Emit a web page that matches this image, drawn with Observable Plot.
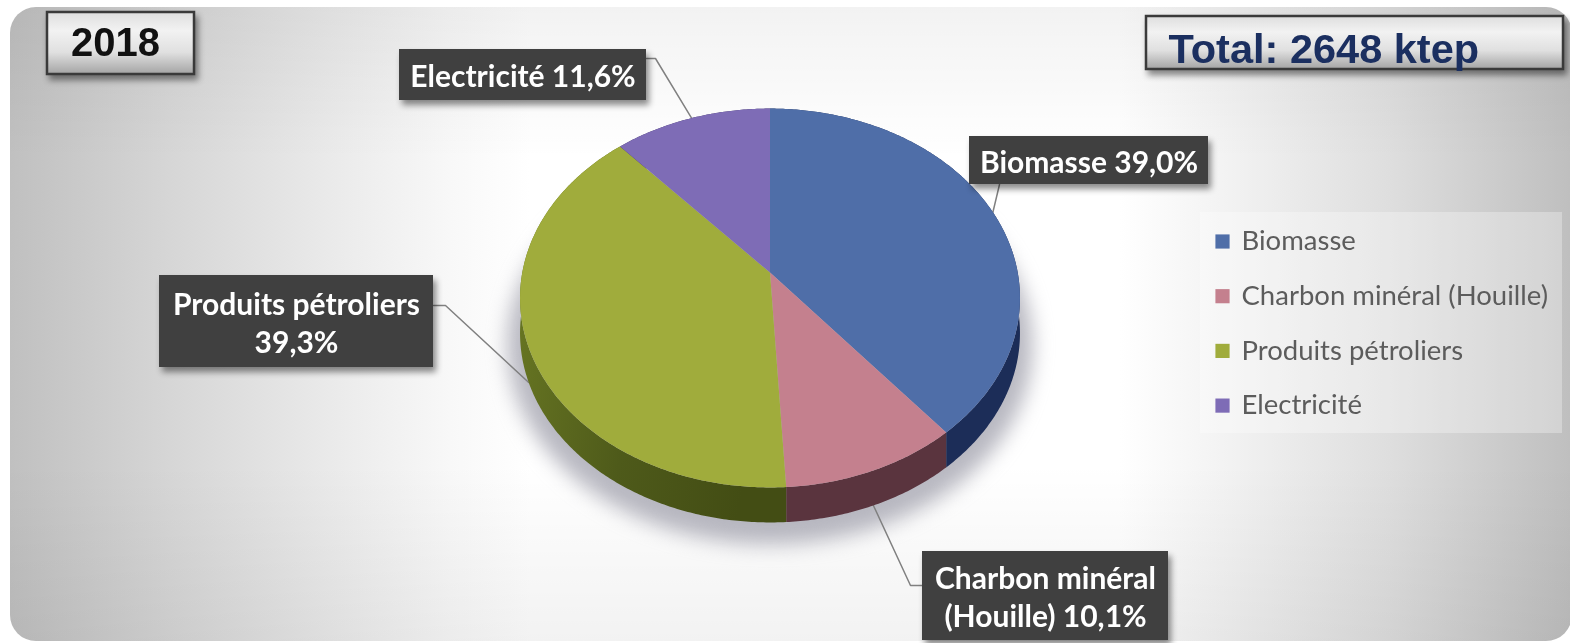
<!DOCTYPE html>
<html lang="fr">
<head>
<meta charset="utf-8">
<title>2018 – Total: 2648 ktep</title>
<script src="https://cdn.jsdelivr.net/npm/d3@7"></script>
<script src="https://cdn.jsdelivr.net/npm/@observablehq/plot@0.6"></script>
<style>
  html, body { margin: 0; padding: 0; background: #fff; overflow: hidden; }
  #stage { position: relative; width: 1570px; height: 643px; overflow: hidden; }
  #panel {
    position: absolute; left: 10px; top: 7px; width: 1562px; height: 634px; border-radius: 26px;
    background:
      linear-gradient(180deg, rgba(0,0,0,0.05) 0, rgba(0,0,0,0) 24%, rgba(0,0,0,0) 72%, rgba(0,0,0,0.05) 100%),
      linear-gradient(90deg, #c0c0c0 0, #d6d6d6 160px, #eaeaea 320px, #f8f8f8 440px, #ffffff 520px, #ffffff 1110px, #f2f2f2 1220px, #dedede 1380px, #bfbfbf 1560px);
  }
  #chart { position: absolute; left: 0; top: 0; }
  #chart svg { display: block; background: transparent; filter: blur(0.6px); }
</style>
</head>
<body>
<div id="stage"><div id="panel"></div><div id="chart"></div></div>
<script>
// ---- chart values ----
const yearLabel = "2018";
const totalLabel = "Total: 2648 ktep";
const categories = ["Biomasse", "Charbon minéral (Houille)", "Produits pétroliers", "Electricité"];
const shares = [39.0, 10.1, 39.3, 11.6];
const sliceLabels = ["Biomasse 39,0%", "Charbon minéral\n(Houille) 10,1%", "Produits pétroliers\n39,3%", "Electricité 11,6%"];

// ---- styles and layout ----
const topColors = ["#4f6ea8", "#c4808e", "#a0ac3c", "#7e6cb6"];
const sideColors = ["#1c2d58", "#5a343e", "url(#greenSide)", "#3a3060"];
const ink = "#404040";
const pie = {cx: 769.5, cy: 272, a: 247.7, b: 186, k: 0.1346, depth: 35};
const boxes = [
  {x1: 969, x2: 1208, y1: 136, y2: 184, elbow: null, tail: [999, 184]},
  {x1: 922, x2: 1168, y1: 551, y2: 640, elbow: [910, 585], tail: [922, 585]},
  {x1: 159, x2: 433, y1: 275, y2: 367, elbow: [445, 305], tail: [433, 305]},
  {x1: 399, x2: 646, y1: 49, y2: 100, elbow: [655, 58], tail: [646, 58]}
];
const legend = {x1: 1200, x2: 1562, y1: 212, y2: 433, swatchX: 1222, textX: 1241, top: 241, step: 54.7};

// ---- geometry derived from the values ----
const arcs = d3.pie().sort(null).value(d => d)(shares);
function project(theta, grow = 1, dy = 0) {
  const c = -Math.cos(theta), w = 1 - pie.k * c;
  return {x: pie.cx + grow * pie.a * Math.sin(theta) / w, y: pie.cy + grow * pie.b * c / w + dy};
}
const rimAngles = (a0, a1) => {
  const n = Math.max(2, Math.ceil((a1 - a0) / 0.01));
  return d3.range(n + 1).map(i => a0 + (a1 - a0) * i / n);
};
const topFace = arc => [
  {x: pie.cx, y: pie.cy, name: categories[arc.index]},
  ...rimAngles(arc.startAngle, arc.endAngle).map(t => ({...project(t), name: categories[arc.index]}))
];
const sideFace = arc => {
  const ts = rimAngles(arc.startAngle, arc.endAngle);
  return [...ts.map(t => project(t)), ...ts.slice().reverse().map(t => project(t, 1, pie.depth))];
};
const leader = (arc, box) => {
  const mid = (arc.startAngle + arc.endAngle) / 2;
  const end = project(mid, 1, Math.cos(mid) < 0 ? pie.depth : 0);
  const pts = [box.tail];
  if (box.elbow) pts.push(box.elbow);
  pts.push([end.x, end.y]);
  return pts.map(([x, y]) => ({x, y}));
};
const shadowRim = rimAngles(0, 2 * Math.PI).map(t => project(t, 1.05, 46));

const defs = () => {
  const d = d3.create("svg:defs");
  const grad = (id, stops, x2 = 0, y2 = 1) => {
    const g = d.append("linearGradient").attr("id", id).attr("x1", 0).attr("y1", 0).attr("x2", x2).attr("y2", y2);
    stops.forEach(([o, c]) => g.append("stop").attr("offset", o).attr("stop-color", c));
  };
  grad("titleBox", [[0, "#dedede"], [0.3, "#f2f2f2"], [0.65, "#e0e0e0"], [1, "#a4a4a4"]]);
  grad("greenSide", [[0, "#6c7b24"], [0.55, "#4e5a1a"], [1, "#434d14"]], 1, 0.25);
  return d.node();
};
const withFilter = css => (index, scales, values, dims, ctx, next) => {
  const g = next(index, scales, values, dims, ctx);
  g.style.filter = css;
  return g;
};
const dropShadow = withFilter("drop-shadow(3px 5px 3px rgba(0,0,0,0.45))");

const titleBox = (x1, x2, y1, y2) => Plot.rect([{x1, x2, y1, y2}], {
  x1: "x1", x2: "x2", y1: "y1", y2: "y2", fill: "url(#titleBox)", stroke: "#3a3a3a", strokeWidth: 2.5, render: dropShadow
});

const chart = Plot.plot({
  width: 1570, height: 643, margin: 0,
  style: {background: "transparent"},
  x: {domain: [0, 1570], range: [0, 1570], axis: null},
  y: {domain: [0, 643], range: [0, 643], axis: null},
  color: {type: "ordinal", domain: categories, range: topColors},
  marks: [
    defs,
    // title boxes
    titleBox(47, 194, 12, 74),
    Plot.text([yearLabel], {x: 115, y: 43, text: d => d, fontFamily: "Liberation Sans", fontWeight: 700, fontSize: 40, fill: "#111"}),
    titleBox(1146, 1563, 16, 69),
    Plot.text([totalLabel], {x: 1168, y: 49, text: d => d, textAnchor: "start", fontFamily: "Liberation Sans", fontWeight: 700, fontSize: 41.5, fill: "#1b2f60"}),
    // legend
    Plot.rect([legend], {x1: "x1", x2: "x2", y1: "y1", y2: "y2", fill: "#fff", fillOpacity: 0.3}),
    Plot.dot(categories, {x: legend.swatchX, y: (d, i) => legend.top + i * legend.step, symbol: "square", r: 8, fill: d => d}),
    Plot.text(categories, {x: legend.textX, y: (d, i) => legend.top + i * legend.step, text: d => d, textAnchor: "start",
      fontFamily: "Lato", fontSize: 27.5, fill: "#5c5c5c"}),
    // pie shadow and leader lines sit under the pie
    Plot.line(shadowRim, {x: "x", y: "y", fill: "#9a9aa6", fillOpacity: 0.7, stroke: "none", render: withFilter("blur(10px)")}),
    ...arcs.map((arc, i) => Plot.line(leader(arc, boxes[i]), {x: "x", y: "y", stroke: "#808080", strokeWidth: 1.5})),
    // pie side then top
    ...arcs.map((arc, i) => Plot.line(sideFace(arc), {x: "x", y: "y", fill: sideColors[i], stroke: "none"})),
    ...arcs.map(arc => Plot.line(topFace(arc), {x: "x", y: "y", fill: "name", stroke: "none"})),
    // value labels
    ...boxes.map((b, i) => [
      Plot.rect([b], {x1: "x1", x2: "x2", y1: "y1", y2: "y2", fill: ink, render: dropShadow}),
      Plot.text([sliceLabels[i]], {x: (b.x1 + b.x2) / 2, y: (b.y1 + b.y2) / 2, text: d => d, fontFamily: "Lato", fontWeight: 700,
        fontSize: 30, lineHeight: 1.28, fill: "#fff"})
    ])
  ]
});
document.getElementById("chart").appendChild(chart);
</script>
</body>
</html>
